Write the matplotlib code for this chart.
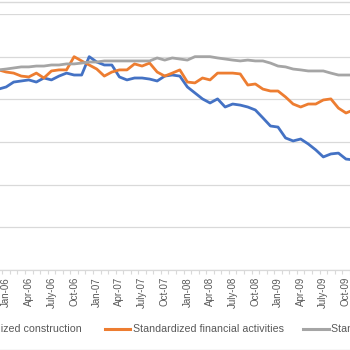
import numpy as np
import matplotlib
matplotlib.use("Agg")
import matplotlib.pyplot as plt
from matplotlib.lines import Line2D

# monthly series, Dec-05 .. Nov-09 (standardized, max = 100)
construction = [
    84.8, 85.8, 88.1, 88.6, 89.1, 88.1, 90.0, 89.1, 90.9, 92.3, 91.4, 91.4,
    100.0, 97.5, 96.1, 96.1, 90.5, 89.1, 90.0, 90.0, 89.5, 88.6, 90.9, 91.4,
    90.9, 85.8, 83.0, 80.2, 78.3, 80.2, 76.4, 77.8, 77.3, 76.4, 75.0, 71.3,
    67.5, 67.0, 61.9, 60.5, 61.4, 59.1, 56.3, 53.0, 54.4, 54.8, 52.0, 51.6,
]
financial = [
    93.8, 92.8, 92.3, 90.9, 90.5, 92.3, 90.0, 93.3, 93.8, 93.8, 100.0, 98.0,
    96.1, 94.2, 90.9, 92.8, 93.8, 93.8, 96.6, 95.6, 97.0, 92.8, 90.9, 92.3,
    93.8, 88.1, 87.7, 90.0, 89.1, 92.3, 92.3, 92.3, 91.9, 86.7, 87.2, 84.8,
    83.9, 83.9, 81.1, 77.8, 76.4, 77.8, 77.8, 79.7, 80.2, 75.9, 73.6, 75.0,
]
third = [
    93.8, 94.2, 94.7, 95.2, 95.2, 95.6, 95.6, 96.1, 96.1, 96.6, 96.6, 97.0,
    97.5, 97.5, 98.0, 98.0, 98.0, 98.0, 98.0, 98.0, 98.0, 99.4, 98.4, 99.4,
    98.9, 98.4, 100.0, 100.0, 100.0, 99.4, 98.9, 98.4, 98.0, 98.4, 98.0, 98.0,
    97.0, 95.6, 95.2, 94.2, 93.8, 93.3, 93.3, 93.3, 92.3, 91.4, 91.4, 91.4,
]
series_names = ["Standardized construction",
                "Standardized financial activities",
                "Standardized industry"]
colors = ["#4472C4", "#ED7D31", "#A5A5A5"]

tick_labels = ["Jan-06", "Apr-06", "July-06", "Oct-06",
               "Jan-07", "Apr-07", "July-07", "Oct-07",
               "Jan-08", "Apr-08", "July-08", "Oct-08",
               "Jan-09", "Apr-09", "July-09", "Oct-09"]
first_label_month = 1   # Jan-06 is the 2nd month in the series
y_ticks = [0, 20, 40, 60, 80, 100, 120]

text_color = "#595959"
grid_color = "#D9D9D9"
font = ["Liberation Sans", "DejaVu Sans"]

W = H = 350
fig = plt.figure(figsize=(3.5, 3.5), dpi=100)
fig.patch.set_facecolor("white")

# plot area is cropped on the left (y labels and start of legend are cut off)
left_px, right_px, top_px, bottom_px = -5.2, 357.3, 14, 270
ax = fig.add_axes([left_px / W, (H - bottom_px) / H,
                   (right_px - left_px) / W, (bottom_px - top_px) / H])

n = len(construction)
x = np.arange(n)
for vals, c in zip([construction, financial, third], colors):
    ax.plot(x, vals, color=c, linewidth=2.0, solid_joinstyle="round",
            solid_capstyle="round")

ax.set_xlim(-0.5, n - 0.5)
ax.set_ylim(0, 120)
ax.set_yticks(y_ticks)
ax.grid(axis="y", color=grid_color, linewidth=0.9)
ax.set_axisbelow(True)
ax.tick_params(axis="y", length=0, labelleft=False)

for s in ["top", "right", "left"]:
    ax.spines[s].set_visible(False)
ax.spines["bottom"].set_color(grid_color)
ax.spines["bottom"].set_linewidth(0.9)

pos = np.arange(first_label_month, first_label_month + 3 * len(tick_labels), 3)
ax.set_xticks(pos)
ax.set_xticklabels(tick_labels, rotation=90, fontsize=7, color=text_color,
                   family=font)
ax.set_xticks(np.arange(-0.5, n, 1), minor=True)
ax.tick_params(axis="x", which="major", length=0, pad=5)
ax.tick_params(axis="x", which="minor", length=3, color=grid_color, width=0.8)

# legend (manual, partly outside the crop)
ly = (H - 329) / H
fig.text(82 / W, ly, series_names[0], ha="right", va="center",
         fontsize=7.7, color=text_color, family=font)
for (x0, x1, tx), name, c in zip([(105, 130, 133), (303, 329, 331)],
                                  series_names[1:], colors[1:]):
    fig.add_artist(Line2D([x0 / W, x1 / W], [ly, ly], color=c, linewidth=2.2,
                          transform=fig.transFigure))
    fig.text(tx / W, ly, name, ha="left", va="center",
             fontsize=7.7, color=text_color, family=font)

# chart border edges
for yy in [349.5, 2.0]:
    fig.add_artist(Line2D([0, 1], [(H - yy) / H] * 2, color=grid_color,
                          linewidth=1.0, transform=fig.transFigure))

fig.savefig("out.png", dpi=100)
